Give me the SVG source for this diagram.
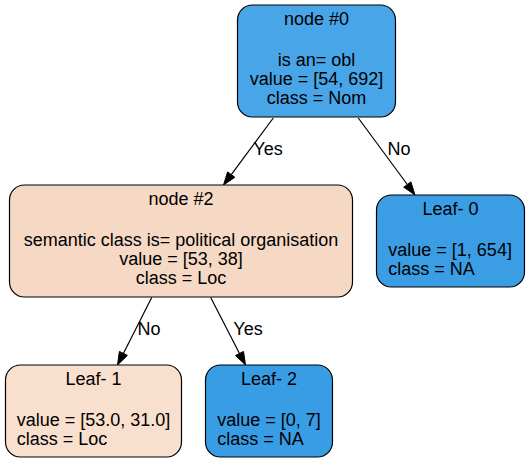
<svg xmlns="http://www.w3.org/2000/svg" width="529" height="463" viewBox="0 0 529 463">
<style>
text{font-family:"Liberation Sans",Arial,Helvetica,sans-serif;font-size:18px;fill:#000}
.c{text-anchor:middle}
.box{stroke:#000;stroke-width:1.2}
.edge line{stroke:#000;stroke-width:1.2}
.edge polygon{fill:#000;stroke:#000;stroke-width:1}
</style>
<rect width="529" height="463" fill="#fff"/>
<g id="edges" class="edge">
<line x1="273.3" y1="118" x2="231.3" y2="174.6"/>
<polygon points="223.5,185 234.9,177.3 227.6,171.9"/>
<text class="c" x="268" y="155">Yes</text>
<line x1="358.3" y1="118" x2="407.3" y2="184.5"/>
<polygon points="415,195 410.9,181.9 403.7,187.2"/>
<text class="c" x="399" y="155">No</text>
<line x1="151.7" y1="297.5" x2="123.4" y2="353.4"/>
<polygon points="117.5,365 127.4,355.4 119.4,351.4"/>
<text class="c" x="149" y="335">No</text>
<line x1="210.7" y1="297.5" x2="239.5" y2="353.4"/>
<polygon points="245.5,365 243.5,351.4 235.5,355.5"/>
<text class="c" x="248" y="335">Yes</text>
</g>
<g id="node0">
<rect class="box" x="237.5" y="5" width="158" height="112" rx="15" fill="#48a5e7"/>
<text class="c" x="316.5" y="25">node #0</text>
<text class="c" x="316.5" y="66">is an= obl</text>
<text class="c" x="316.5" y="85">value = [54, 692]</text>
<text class="c" x="316.5" y="104">class = Nom</text>
</g>
<g id="node2">
<rect class="box" x="9.5" y="185" width="343" height="112" rx="15" fill="#f6d9c4"/>
<text class="c" x="181" y="205">node #2</text>
<text class="c" x="181" y="246">semantic class is= political organisation</text>
<text class="c" x="181" y="265">value = [53, 38]</text>
<text class="c" x="181" y="284">class = Loc</text>
</g>
<g id="leaf0">
<rect class="box" x="376.5" y="195" width="148" height="92" rx="15" fill="#3b9ee5"/>
<text class="c" x="450.5" y="215">Leaf- 0</text>
<text x="388.3" y="256">value = [1, 654]</text>
<text x="388.3" y="275">class = NA</text>
</g>
<g id="leaf1">
<rect class="box" x="5.5" y="365" width="176" height="92" rx="15" fill="#f9dfcd"/>
<text class="c" x="93.5" y="385">Leaf- 1</text>
<text x="16.7" y="426">value = [53.0, 31.0]</text>
<text x="16.7" y="445">class = Loc</text>
</g>
<g id="leaf2">
<rect class="box" x="205.5" y="365" width="127" height="92" rx="15" fill="#399de5"/>
<text class="c" x="269" y="385">Leaf- 2</text>
<text x="217.3" y="426">value = [0, 7]</text>
<text x="217.3" y="445">class = NA</text>
</g>
</svg>
